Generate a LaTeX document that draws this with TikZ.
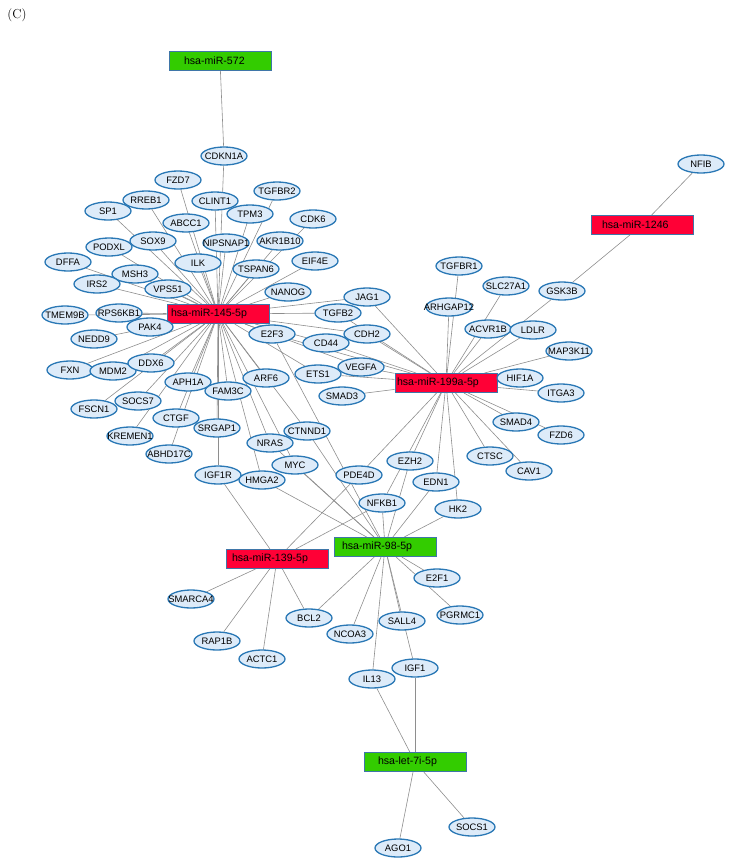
\documentclass[tikz,border=0pt]{standalone}
\usepackage{fontspec}
\newfontfamily\netfont{Liberation Sans}
\usetikzlibrary{shapes.geometric}
\pgfdeclarelayer{background}
\pgfsetlayers{background,main}
\definecolor{genefill}{HTML}{DDEBF9}
\definecolor{geneline}{HTML}{2A78B5}
\definecolor{redfill}{HTML}{FF0036}
\definecolor{greenfill}{HTML}{33CC00}
\definecolor{boxline}{HTML}{3F76A8}
\definecolor{edgegray}{HTML}{8E8E8E}
\tikzstyle{gene} = [ellipse, draw=geneline, line width=1.3pt, fill=genefill,
                    minimum width=46pt, minimum height=18pt, inner sep=0pt,
                    font=\netfont\fontsize{9.4}{10}\selectfont]
\tikzstyle{mirna} = [rectangle, draw=boxline, line width=1pt, minimum height=19pt,
                     text width=94pt, inner xsep=4pt, inner ysep=0pt, align=left,
                     font=\netfont\fontsize{10.6}{12}\selectfont]
\tikzstyle{downmir}=[mirna, fill=redfill]
\tikzstyle{upmir}=[mirna, fill=greenfill]
\tikzstyle{edge}=[draw=edgegray, line width=0.6pt]
\newcommand{\gene}[3]{\node [gene] (#1) at (#2) {\makebox[0pt]{#3}};}
\newcommand{\redmir}[4][]{\node [downmir, #1] (#2) at (#3) {#4};}
\newcommand{\greenmir}[4][]{\node [upmir, #1] (#2) at (#3) {#4};}

\begin{document}
\begin{tikzpicture}[x=1pt, y=-1pt]
  \useasboundingbox (0,0) rectangle (735,867);
  \node (panel) at (17,15) {\fontsize{13}{15}\selectfont (C)};

  \greenmir[inner xsep=15pt, text width=72pt] {m572} {220,61} {hsa-miR-572}
  \redmir {m145} {218,314} {hsa-miR-145-5p}
  \redmir[inner xsep=11pt, text width=80pt] {m1246} {642,225} {hsa-miR-1246}
  \redmir[inner xsep=2pt, text width=98pt] {m199a} {446,383} {hsa-miR-199a-5p}
  \redmir[inner xsep=6pt, text width=90pt] {m139} {277,559} {hsa-miR-139-5p}
  \greenmir[inner xsep=8pt, text width=86pt] {m98} {385,547} {hsa-miR-98-5p}
  \greenmir[inner xsep=14pt, text width=74pt] {let7i} {415,762} {hsa-let-7i-5p}

  \gene {CDKN1A} {224,156} {CDKN1A}
  \gene {FZD7} {178,180} {FZD7}
  \gene {TGFBR2} {277,191} {TGFBR2}
  \gene {RREB1} {146,200} {RREB1}
  \gene {CLINT1} {215,201} {CLINT1}
  \gene {SP1} {108,211} {SP1}
  \gene {TPM3} {250,214} {TPM3}
  \gene {ABCC1} {186,223} {ABCC1}
  \gene {CDK6} {313,219} {CDK6}
  \gene {SOX9} {153,241} {SOX9}
  \gene {NIPSNAP1} {226,243} {NIPSNAP1}
  \gene {AKR1B10} {280,241} {AKR1B10}
  \gene {PODXL} {109,247} {PODXL}
  \gene {DFFA} {68,262} {DFFA}
  \gene {ILK} {198,263} {ILK}
  \gene {EIF4E} {315,261} {EIF4E}
  \gene {TSPAN6} {256,269} {TSPAN6}
  \gene {MSH3} {135,274} {MSH3}
  \gene {IRS2} {97,284} {IRS2}
  \gene {VPS51} {168,289} {VPS51}
  \gene {NANOG} {288,292} {NANOG}
  \gene {JAG1} {367,297} {JAG1}
  \gene {TMEM9B} {65,315} {TMEM9B}
  \gene {RPS6KB1} {119,313} {RPS6KB1}
  \gene {TGFB2} {338,313} {TGFB2}
  \gene {PAK4} {150,327} {PAK4}
  \gene {E2F3} {272,334} {E2F3}
  \gene {NEDD9} {94,339} {NEDD9}
  \gene {CD44} {326,343} {CD44}
  \gene {CDH2} {367,334} {CDH2}
  \gene {FXN} {70,370} {FXN}
  \gene {MDM2} {113,371} {MDM2}
  \gene {DDX6} {151,363} {DDX6}
  \gene {VEGFA} {361,367} {VEGFA}
  \gene {ETS1} {318,374} {ETS1}
  \gene {APH1A} {188,382} {APH1A}
  \gene {ARF6} {266,378} {ARF6}
  \gene {FAM3C} {228,391} {FAM3C}
  \gene {SMAD3} {342,396} {SMAD3}
  \gene {FSCN1} {94,409} {FSCN1}
  \gene {SOCS7} {138,401} {SOCS7}
  \gene {CTGF} {176,418} {CTGF}
  \gene {SRGAP1} {217,428} {SRGAP1}
  \gene {KREMEN1} {130,436} {KREMEN1}
  \gene {CTNND1} {307,431} {CTNND1}
  \gene {NRAS} {270,443} {NRAS}
  \gene {ABHD17C} {169,454} {ABHD17C}
  \gene {MYC} {295,465} {MYC}
  \gene {IGF1R} {218,475} {IGF1R}
  \gene {HMGA2} {262,480} {HMGA2}
  \gene {PDE4D} {359,475} {PDE4D}
  \gene {EZH2} {410,461} {EZH2}
  \gene {EDN1} {436,482} {EDN1}
  \gene {NFKB1} {382,503} {NFKB1}
  \gene {HK2} {458,509} {HK2}
  \gene {NFIB} {701,164} {NFIB}
  \gene {TGFBR1} {459,266} {TGFBR1}
  \gene {SLC27A1} {506,286} {SLC27A1}
  \gene {GSK3B} {562,291} {GSK3B}
  \gene {ARHGAP12} {449,307} {ARHGAP12}
  \gene {ACVR1B} {488,329} {ACVR1B}
  \gene {LDLR} {533,330} {LDLR}
  \gene {MAP3K11} {569,351} {MAP3K11}
  \gene {HIF1A} {520,378} {HIF1A}
  \gene {ITGA3} {561,393} {ITGA3}
  \gene {SMAD4} {516,422} {SMAD4}
  \gene {FZD6} {561,435} {FZD6}
  \gene {CTSC} {490,456} {CTSC}
  \gene {CAV1} {529,471} {CAV1}
  \gene {SMARCA4} {191,599} {SMARCA4}
  \gene {E2F1} {437,578} {E2F1}
  \gene {PGRMC1} {460,615} {PGRMC1}
  \gene {BCL2} {309,618} {BCL2}
  \gene {SALL4} {402,621} {SALL4}
  \gene {NCOA3} {350,634} {NCOA3}
  \gene {RAP1B} {217,641} {RAP1B}
  \gene {ACTC1} {262,659} {ACTC1}
  \gene {IGF1} {415,668} {IGF1}
  \gene {IL13} {372,679} {IL13}
  \gene {SOCS1} {472,827} {SOCS1}
  \gene {AGO1} {398,848} {AGO1}

  \begin{pgfonlayer}{background}
    \draw[edge] (m572) -- (CDKN1A);
    \foreach \g in {NFIB, GSK3B}
      \draw[edge] (m1246) -- (\g);
    \foreach \g in {CDKN1A, FZD7, RREB1, CLINT1, SP1, TPM3, ABCC1, TGFBR2,
                    CDK6, SOX9, NIPSNAP1, AKR1B10, PODXL, DFFA, ILK, EIF4E,
                    TSPAN6, MSH3, IRS2, VPS51, NANOG, JAG1, TMEM9B, RPS6KB1,
                    TGFB2, PAK4, E2F3, NEDD9, CD44, CDH2, FXN, MDM2, DDX6,
                    VEGFA, ETS1, APH1A, ARF6, FAM3C, FSCN1, SOCS7, CTGF,
                    SRGAP1, KREMEN1, CTNND1, NRAS, ABHD17C, MYC, IGF1R, HMGA2}
      \draw[edge] (m145) -- (\g);
    \foreach \g in {JAG1, TGFB2, CDH2, CD44, E2F3, VEGFA, ETS1, SMAD3,
                    ARHGAP12, TGFBR1, SLC27A1, ACVR1B, LDLR, GSK3B, MAP3K11,
                    HIF1A, ITGA3, SMAD4, FZD6, CTSC, CAV1, HK2, EDN1, EZH2,
                    NFKB1, PDE4D}
      \draw[edge] (m199a) -- (\g);
    \foreach \g in {HMGA2, MYC, NRAS, CTNND1, E2F3, NFKB1, EZH2, EDN1, HK2,
                    E2F1, PGRMC1, BCL2, NCOA3, SALL4, IGF1, IL13}
      \draw[edge] (m98) -- (\g);
    \foreach \g in {IGF1R, PDE4D, NFKB1, SMARCA4, RAP1B, ACTC1, BCL2}
      \draw[edge] (m139) -- (\g);
    \foreach \g in {IL13, IGF1, AGO1, SOCS1}
      \draw[edge] (let7i) -- (\g);
  \end{pgfonlayer}
\end{tikzpicture}
\end{document}
